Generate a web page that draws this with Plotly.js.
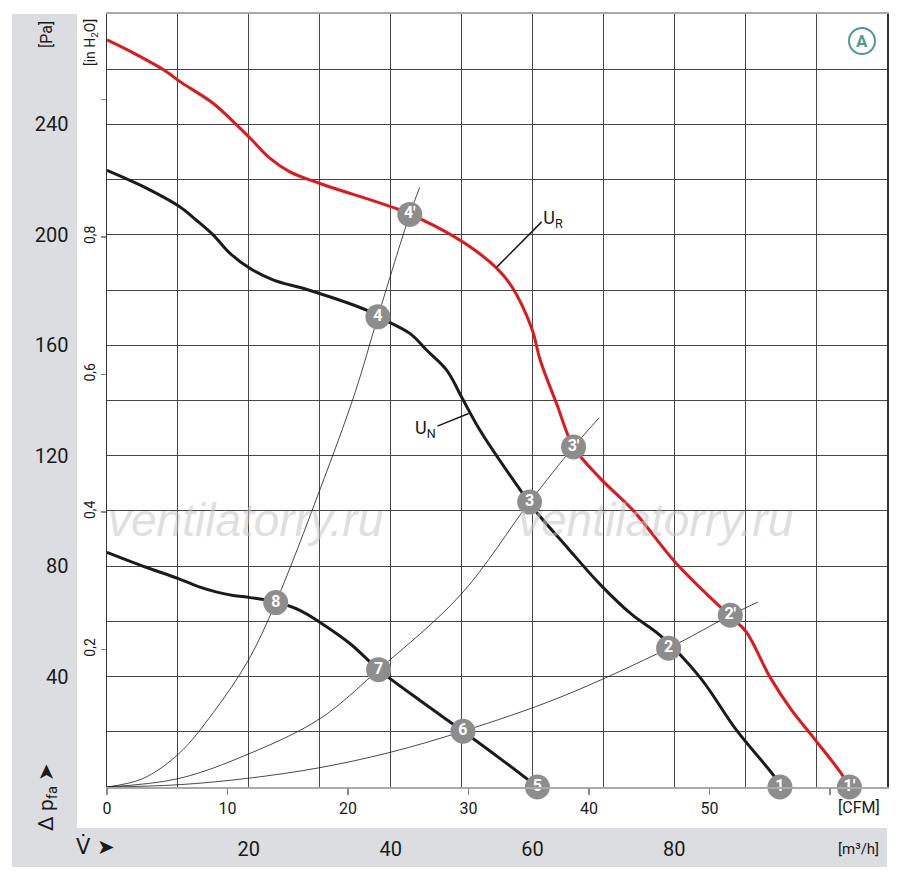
<!DOCTYPE html>
<html>
<head>
<meta charset="utf-8">
<script src="https://cdn.plot.ly/plotly-3.0.1.min.js"></script>
<style>html,body{margin:0;padding:0;background:#fff;}#chart{width:900px;height:880px;}</style>
</head>
<body>
<div id="chart"></div>
<script>
// ---- data (flow in m³/h, pressure in Pa) ----
var urFlow = [0, 3.7, 8.4, 10.3, 15, 18.05, 20.2, 23, 25.8, 30, 41.3, 46, 51.2, 55, 57.1, 59.9, 61.1, 63.4, 65.8, 69.6, 74.2, 80.1, 85.5, 88.3, 90.2, 93.5, 96.5, 99.6, 103.9, 104.5];
var urPress = [270.6, 265.9, 259.1, 255.5, 247.6, 240.4, 235, 227.7, 222.8, 218.6, 209, 203.5, 195.7, 187.8, 181.2, 166.1, 154.6, 138.9, 123.2, 111.7, 100.2, 81.5, 67.6, 61, 56, 39.8, 28, 18, 3.5, 0];

var unFlow = [0, 4.7, 10.3, 12.6, 15, 17.35, 20.2, 23.5, 28.2, 36.6, 38.1, 42.7, 45.1, 47.9, 50, 52.6, 58.3, 60.5, 65, 69.5, 74, 78, 83.6, 88.8, 94, 95];
var unPress = [223.4, 218, 210.1, 205.3, 199.9, 193.3, 187.8, 183.6, 180.2, 172.7, 170.5, 164.3, 158.2, 151, 141.3, 129.2, 107.5, 99.8, 86.5, 73.5, 62.5, 54.9, 39.8, 20.5, 4.2, 0];

var lowFlow = [0, 5.4, 10.06, 13.1, 15.5, 17.8, 20.2, 23.8, 27.2, 30, 34.3, 38.3, 44.1, 50.2, 55.5, 60.7];
var lowPress = [85, 79.7, 75.5, 72.4, 70.6, 69.4, 68.6, 67, 64, 59.7, 51.9, 42.5, 31.4, 20.2, 10.2, 0];

// system (resistance) curves
var sysAFlow = [0, 5, 10.1, 15, 19.9, 23.8, 30, 35, 38.2, 42.7, 44.1];
var sysAPress = [0, 3, 12, 27, 45.8, 66.8, 107.5, 143, 170.3, 207.4, 217.2];
var sysBFlow = [0, 10, 20, 30, 38.3, 50, 59.6, 65.8, 69.4];
var sysBPress = [0, 3, 12, 24.7, 42.5, 70, 103.2, 123.2, 133.7];
var sysCFlow = [0, 10, 20, 30, 40, 50.2, 63.9, 79.2, 87.9, 91.8];
var sysCPress = [0, 0.8, 3.2, 7, 12.6, 20.2, 32.5, 50.3, 62.2, 67];

// operating points
var ptLabels = ["1", "1'", "2", "2'", "3", "3'", "4", "4'", "5", "6", "7", "8"];
var ptFlow = [94.9, 104.7, 79.2, 87.9, 59.6, 65.8, 38.2, 42.7, 60.7, 50.2, 38.3, 23.8];
var ptPress = [0, 0, 50.3, 62.2, 103.2, 123.2, 170.3, 207.4, 0, 20.2, 42.5, 66.8];

// curve labels and leader lines
var curveLabels = ["U<sub>R</sub>", "U<sub>N</sub>"];
var curveLabelFlow = [62.9, 44.9];
var curveLabelPress = [205.5, 129.5];
var leaderRFlow = [61.3, 55.0];
var leaderRPress = [204.7, 188.4];
var leaderNFlow = [46.6, 51.0];
var leaderNPress = [130.7, 135.3];

// axes ticks
var flowTicks = [0, 10, 20, 30, 40, 50, 60, 70, 80, 90, 100, 110];
var flowTickText = ["", "", "20", "", "40", "", "60", "", "80", "", "", ""];
var cfmTicks = [0, 10, 20, 30, 40, 50, 60];
var cfmTickText = ["0", "10", "20", "30", "40", "50", ""];
var paTicks = [0, 20, 40, 60, 80, 100, 120, 140, 160, 180, 200, 220, 240, 260, 280];
var paTickText = ["", "", "40", "", "80", "", "120", "", "160", "", "200", "", "240", "", ""];
var inTicks = [0.2, 0.4, 0.6, 0.8, 1.0];
var inTickText = ["0,2", "0,4", "0,6", "0,8", ""];

var FLOW_MAX = 110, PA_MAX = 280;
var M3H_PER_CFM = 1.69901, PA_PER_INH2O = 249.089;

var FONT = "Roboto, 'Liberation Sans', Arial, sans-serif";
var RED = "#e3161b", BLACK = "#1b1b1b", GRID = "#464646";

var traces = [
  {x: sysAFlow, y: sysAPress, mode: "lines", line: {color: BLACK, width: 0.8, shape: "spline"}},
  {x: sysBFlow, y: sysBPress, mode: "lines", line: {color: BLACK, width: 0.8, shape: "spline"}},
  {x: sysCFlow, y: sysCPress, mode: "lines", line: {color: BLACK, width: 0.8, shape: "spline"}},
  {x: urFlow, y: urPress, mode: "lines", line: {color: RED, width: 3, shape: "spline", smoothing: 1}},
  {x: unFlow, y: unPress, mode: "lines", line: {color: BLACK, width: 3, shape: "spline", smoothing: 1}},
  {x: lowFlow, y: lowPress, mode: "lines", line: {color: BLACK, width: 3, shape: "spline", smoothing: 1}},
  {x: leaderRFlow, y: leaderRPress, mode: "lines", line: {color: BLACK, width: 1.5}},
  {x: leaderNFlow, y: leaderNPress, mode: "lines", line: {color: BLACK, width: 1.5}},
  {x: curveLabelFlow, y: curveLabelPress, mode: "text", text: curveLabels,
   textposition: "middle center", textfont: {family: FONT, size: 18, color: "#1a1a1a"}},
  {x: ptFlow, y: ptPress, mode: "markers+text", text: ptLabels, textposition: "middle center",
   marker: {size: 25, color: "#8d8d8d", line: {width: 0}},
   textfont: {family: FONT, size: 16, color: "#ffffff", weight: "bold"}, cliponaxis: false},
  // invisible traces that switch on the secondary (unit) axes
  {x: [0, FLOW_MAX / M3H_PER_CFM], y: [0, 0], xaxis: "x2", yaxis: "y", mode: "markers", marker: {opacity: 0}, hoverinfo: "skip"},
  {x: [0, 0], y: [0, PA_MAX / PA_PER_INH2O], xaxis: "x", yaxis: "y2", mode: "markers", marker: {opacity: 0}, hoverinfo: "skip"}
];
traces.forEach(function (t) { t.showlegend = false; });

function px2x(px) { return (px - 107) / 780; }
function px2y(py) { return (787 - py) / 773; }
function note(px, py, text, size, extra) {
  var a = {xref: "paper", yref: "paper", x: px2x(px), y: px2y(py), text: text, showarrow: false,
           xanchor: "center", yanchor: "middle", font: {family: FONT, size: size, color: "#1a1a1a"}};
  for (var k in (extra || {})) a[k] = extra[k];
  return a;
}

var layout = {
  width: 900, height: 880,
  margin: {l: 107, r: 13, t: 14, b: 93},
  paper_bgcolor: "#ffffff", plot_bgcolor: "#ffffff",
  font: {family: FONT, color: "#1a1a1a"},
  showlegend: false,
  xaxis: {
    range: [0, FLOW_MAX], tickmode: "array", tickvals: flowTicks, ticktext: flowTickText,
    showgrid: true, gridcolor: GRID, gridwidth: 1, zeroline: false, ticks: "",
    ticklabelstandoff: 43, tickfont: {family: FONT, size: 20, color: "#1a1a1a"},
    showline: true, linecolor: "#a9a9a9", linewidth: 2, mirror: true
  },
  xaxis2: {
    overlaying: "x", anchor: "y", side: "bottom", range: [0, FLOW_MAX / M3H_PER_CFM],
    tickmode: "array", tickvals: cfmTicks, ticktext: cfmTickText,
    ticks: "outside", ticklen: 7, tickcolor: "#8a8a8a", tickwidth: 1.5,
    showgrid: false, zeroline: false, showline: false,
    tickfont: {family: FONT, size: 16, color: "#1a1a1a"}
  },
  yaxis: {
    range: [0, PA_MAX], tickmode: "array", tickvals: paTicks, ticktext: paTickText,
    showgrid: true, gridcolor: GRID, gridwidth: 1, zeroline: false, ticks: "",
    ticklabelstandoff: 33, tickfont: {family: FONT, size: 20, color: "#1a1a1a"},
    showline: true, linecolor: "#333333", linewidth: 1.5, mirror: true
  },
  yaxis2: {
    overlaying: "y", anchor: "x", side: "left", range: [0, PA_MAX / PA_PER_INH2O],
    tickmode: "array", tickvals: inTicks, ticktext: inTickText, tickangle: -90,
    ticks: "outside", ticklen: 5, tickcolor: "#8a8a8a", tickwidth: 1.5,
    showgrid: false, zeroline: false, showline: false,
    tickfont: {family: FONT, size: 14, color: "#1a1a1a"}
  },
  shapes: [
    {type: "rect", xref: "paper", yref: "paper", layer: "below",
     x0: px2x(12), x1: px2x(77), y0: px2y(828), y1: px2y(14), fillcolor: "#dcdde0", line: {width: 0}},
    {type: "rect", xref: "paper", yref: "paper", layer: "below",
     x0: px2x(12), x1: px2x(887), y0: px2y(867), y1: px2y(828), fillcolor: "#dcdde0", line: {width: 0}},
    {type: "circle", xref: "paper", yref: "paper",
     x0: px2x(849), x1: px2x(875), y0: px2y(54), y1: px2y(28), line: {color: "#4f9a96", width: 2}}
  ],
  annotations: [
    note(245, 520, "ventilatorry.ru", 46, {font: {family: "'Liberation Sans', Arial, sans-serif", size: 46, color: "rgba(195,195,195,0.55)", style: "italic"}}),
    note(655, 520, "ventilatorry.ru", 46, {font: {family: "'Liberation Sans', Arial, sans-serif", size: 46, color: "rgba(195,195,195,0.55)", style: "italic"}}),
    note(46, 35, "[Pa]", 16, {textangle: -90}),
    note(91, 43, "[in H<sub>2</sub>O]", 14, {textangle: -90}),
    note(47, 797, "Δ p<sub>fa</sub> ➤", 21, {textangle: -90}),
    note(95, 847, "V\u0307 ➤", 22, {font: {family: "'DejaVu Sans', 'Liberation Sans', sans-serif", size: 21, color: "#1a1a1a"}}),
    note(858, 849, "[m³/h]", 15),
    note(859, 808, "[CFM]", 16),
    note(862, 41, "<b>A</b>", 17, {font: {family: FONT, size: 17, color: "#4f9a96"}})
  ]
};

Plotly.newPlot("chart", traces, layout, {staticPlot: true, displayModeBar: false});
</script>
</body>
</html>
